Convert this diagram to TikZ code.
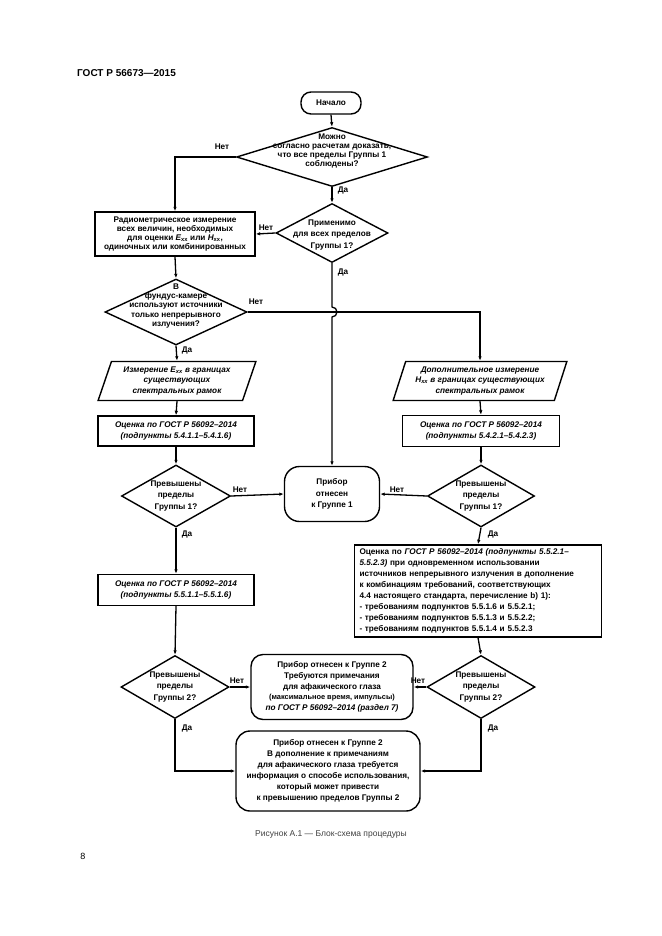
\documentclass[tikz,border=0pt]{standalone}
\usepackage{fontspec}
\setmainfont{Liberation Sans}
\usetikzlibrary{shapes.geometric,arrows.meta}
\tikzset{
  lead/.style={font=\fontsize{8.2}{#1}\selectfont\bfseries},
  txt/.style={lead=9.3, align=center, inner sep=0pt},
  lbl/.style={lead=9.3, inner sep=0pt},
  box/.style={draw, line width=1.4pt, rectangle, txt, inner sep=1pt},
  rbox/.style={draw, line width=1.4pt, rectangle, rounded corners=12pt, txt},
  para/.style={draw, line width=1.4pt, trapezium, trapezium left angle=69, trapezium right angle=111, trapezium stretches=true, txt},
  diashape/.style={draw, line width=1.4pt, diamond, inner sep=0pt},
  conn/.style={draw, line width=1.3pt, -{Latex[length=4.5pt,width=3.5pt]}},
  plain/.style={draw, line width=1.3pt}
}
\newcommand\xx[1]{{\itshape #1}\textsubscript{xx}}
\begin{document}
\begin{tikzpicture}[x=1pt,y=-1pt]
\useasboundingbox (0,0) rectangle (661,936);
\node[anchor=west, font=\fontsize{10}{12}\selectfont\bfseries, inner sep=0pt] (hdr) at (77,73) {ГОСТ Р 56673—2015};

\node[box, rounded corners=10pt, minimum width=60, minimum height=22] (start) at (331,103) {Начало};

\node[diashape, minimum width=191, minimum height=59] (d1) at (332,157) {};
\node[txt, lead=8.8] (d1t) at (332,151) {Можно\\согласно расчетам доказать,\\что все пределы Группы 1\\соблюдены?};

\node[diashape, minimum width=112, minimum height=59] (d2) at (332,233) {};
\node[txt, lead=11.8] (d2t) at (332,235) {Применимо\\для всех пределов\\Группы 1?};

\node[box, minimum width=160, minimum height=44] (b1) at (175,234) {Радиометрическое измерение\\всех величин, необходимых\\для оценки \xx{E} или \xx{H},\\одиночных или комбинированных};

\node[diashape, minimum width=142, minimum height=66] (d3) at (176,312) {};
\node[txt, lead=9.3] (d3t) at (176,306) {В\\фундус-камере\\используют источники\\только непрерывного\\излучения?};

\node[para, lead=10.5, minimum width=158, minimum height=39] (p1) at (177,381) {\itshape Измерение \xx{E} в границах\\\itshape существующих\\\itshape спектральных рамок};

\node[box, lead=11, minimum width=156, minimum height=30] (b2) at (176,431) {\itshape Оценка по ГОСТ Р 56092–2014\\\itshape (подпункты 5.4.1.1–5.4.1.6)};

\node[diashape, minimum width=109, minimum height=62] (d4) at (176,496) {};
\node[txt, lead=11.5] (d4t) at (176,496) {Превышены\\пределы\\Группы 1?};

\node[rbox, lead=11.5, rounded corners=15pt, minimum width=95, minimum height=55] (g1) at (332,494) {Прибор\\отнесен\\к Группе 1};

\node[box, lead=11, minimum width=156, minimum height=31] (b3) at (176,590) {\itshape Оценка по ГОСТ Р 56092–2014\\\itshape (подпункты 5.5.1.1–5.5.1.6)};

\node[diashape, minimum width=108, minimum height=63] (d5) at (175,687) {};
\node[txt, lead=11.5] (d5t) at (175,687) {Превышены\\пределы\\Группы 2?};

\node[rbox, lead=10.7, minimum width=162, minimum height=65] (g2) at (332,687) {Прибор отнесен к Группе 2\\Требуются примечания\\для афакического глаза\\{\fontsize{7.4}{10.7}\selectfont (максимальное время, импульсы)}\\\itshape по ГОСТ Р 56092–2014 (раздел 7)};

\node[rbox, lead=10.9, rounded corners=14pt, minimum width=184, minimum height=80] (g3) at (328,771) {Прибор отнесен к Группе 2\\В дополнение к примечаниям\\для афакического глаза требуется\\информация о способе использования,\\который может привести\\к превышению пределов Группы 2};

\node[para, lead=10.5, minimum width=174, minimum height=39] (p2) at (480,381) {\itshape Дополнительное измерение\\\itshape \xx{H} в границах существующих\\\itshape спектральных рамок};

\node[box, lead=11, minimum width=157, minimum height=31] (b4) at (481,431) {\itshape Оценка по ГОСТ Р 56092–2014\\\itshape (подпункты 5.4.2.1–5.4.2.3)};

\node[diashape, minimum width=107, minimum height=62] (d7) at (481,496) {};
\node[txt, lead=11.5] (d7t) at (481,496) {Превышены\\пределы\\Группы 1?};

\node[box, lead=10.9, align=left, minimum width=247, minimum height=92, text width=237] (b5) at (478,591) {Оценка по \textit{ГОСТ Р 56092–2014 (подпункты 5.5.2.1–}\\\textit{5.5.2.3)} при одновременном использовании\\источников непрерывного излучения в дополнение\\к комбинациям требований, соответствующих\\4.4 настоящего стандарта, перечисление b) 1):\\- требованиям подпунктов 5.5.1.6 и 5.5.2.1;\\- требованиям подпунктов 5.5.1.3 и 5.5.2.2;\\- требованиям подпунктов 5.5.1.4 и 5.5.2.3};

\node[diashape, minimum width=108, minimum height=63] (d6) at (481,687) {};
\node[txt, lead=11.5] (d6t) at (481,687) {Превышены\\пределы\\Группы 2?};

% connectors
\draw[conn] (start.south) -- (d1.north);
\draw[conn] (d1.west) -| (b1.north);
\node[lbl] (n1) at (222,147) {Нет};
\draw[conn] (d1.south) -- (d2.north);
\node[lbl] (y1) at (343,190) {Да};
\draw[conn] (d2.west) -- (b1.east);
\node[lbl] (n2) at (266,228) {Нет};
\coordinate (j1) at (332,307);
\draw[conn] (d2.south) -- (j1) arc[start angle=-90, end angle=90, radius=5] -- (g1.north);
\node[lbl] (y2) at (343,272) {Да};
\draw[conn] (b1.south) -- (d3.north);
\draw[conn] (d3.east) -| (p2.north);
\node[lbl] (n3) at (256,302) {Нет};
\draw[conn] (d3.south) -- (p1.north);
\node[lbl] (y3) at (187,350) {Да};
\draw[conn] (p1.south) -- (b2.north);
\draw[conn] (b2.south) -- (d4.north);
\draw[conn] (d4.east) -- (g1.west);
\node[lbl] (n4) at (240,490) {Нет};
\draw[conn] (d4.south) -- (b3.north);
\node[lbl] (y4) at (187,534) {Да};
\draw[conn] (b3.south) -- (d5.north);
\draw[conn] (d5.east) -- (g2.west);
\node[lbl] (n5) at (237,681) {Нет};
\draw[conn] (d5.south) |- (g3.west);
\node[lbl] (y5) at (187,728) {Да};
\draw[conn] (p2.south) -- (b4.north);
\draw[conn] (b4.south) -- (d7.north);
\draw[conn] (d7.west) -- (g1.east);
\node[lbl] (n6) at (397,490) {Нет};
\draw[conn] (d7.south) -- (b5.north);
\node[lbl] (y6) at (493,534) {Да};
\draw[conn] (b5.south) -- (d6.north);
\draw[conn] (d6.west) -- (g2.east);
\node[lbl] (n7) at (418,681) {Нет};
\draw[conn] (d6.south) |- (g3.east);
\node[lbl] (y7) at (493,728) {Да};

\node[font=\fontsize{8.5}{10}\selectfont, text=black!75, inner sep=0pt] (cap) at (331,834) {Рисунок А.1 — Блок-схема процедуры};
\node[font=\fontsize{9}{10}\selectfont, inner sep=0pt] (pg) at (83,856) {8};
\end{tikzpicture}
\end{document}
